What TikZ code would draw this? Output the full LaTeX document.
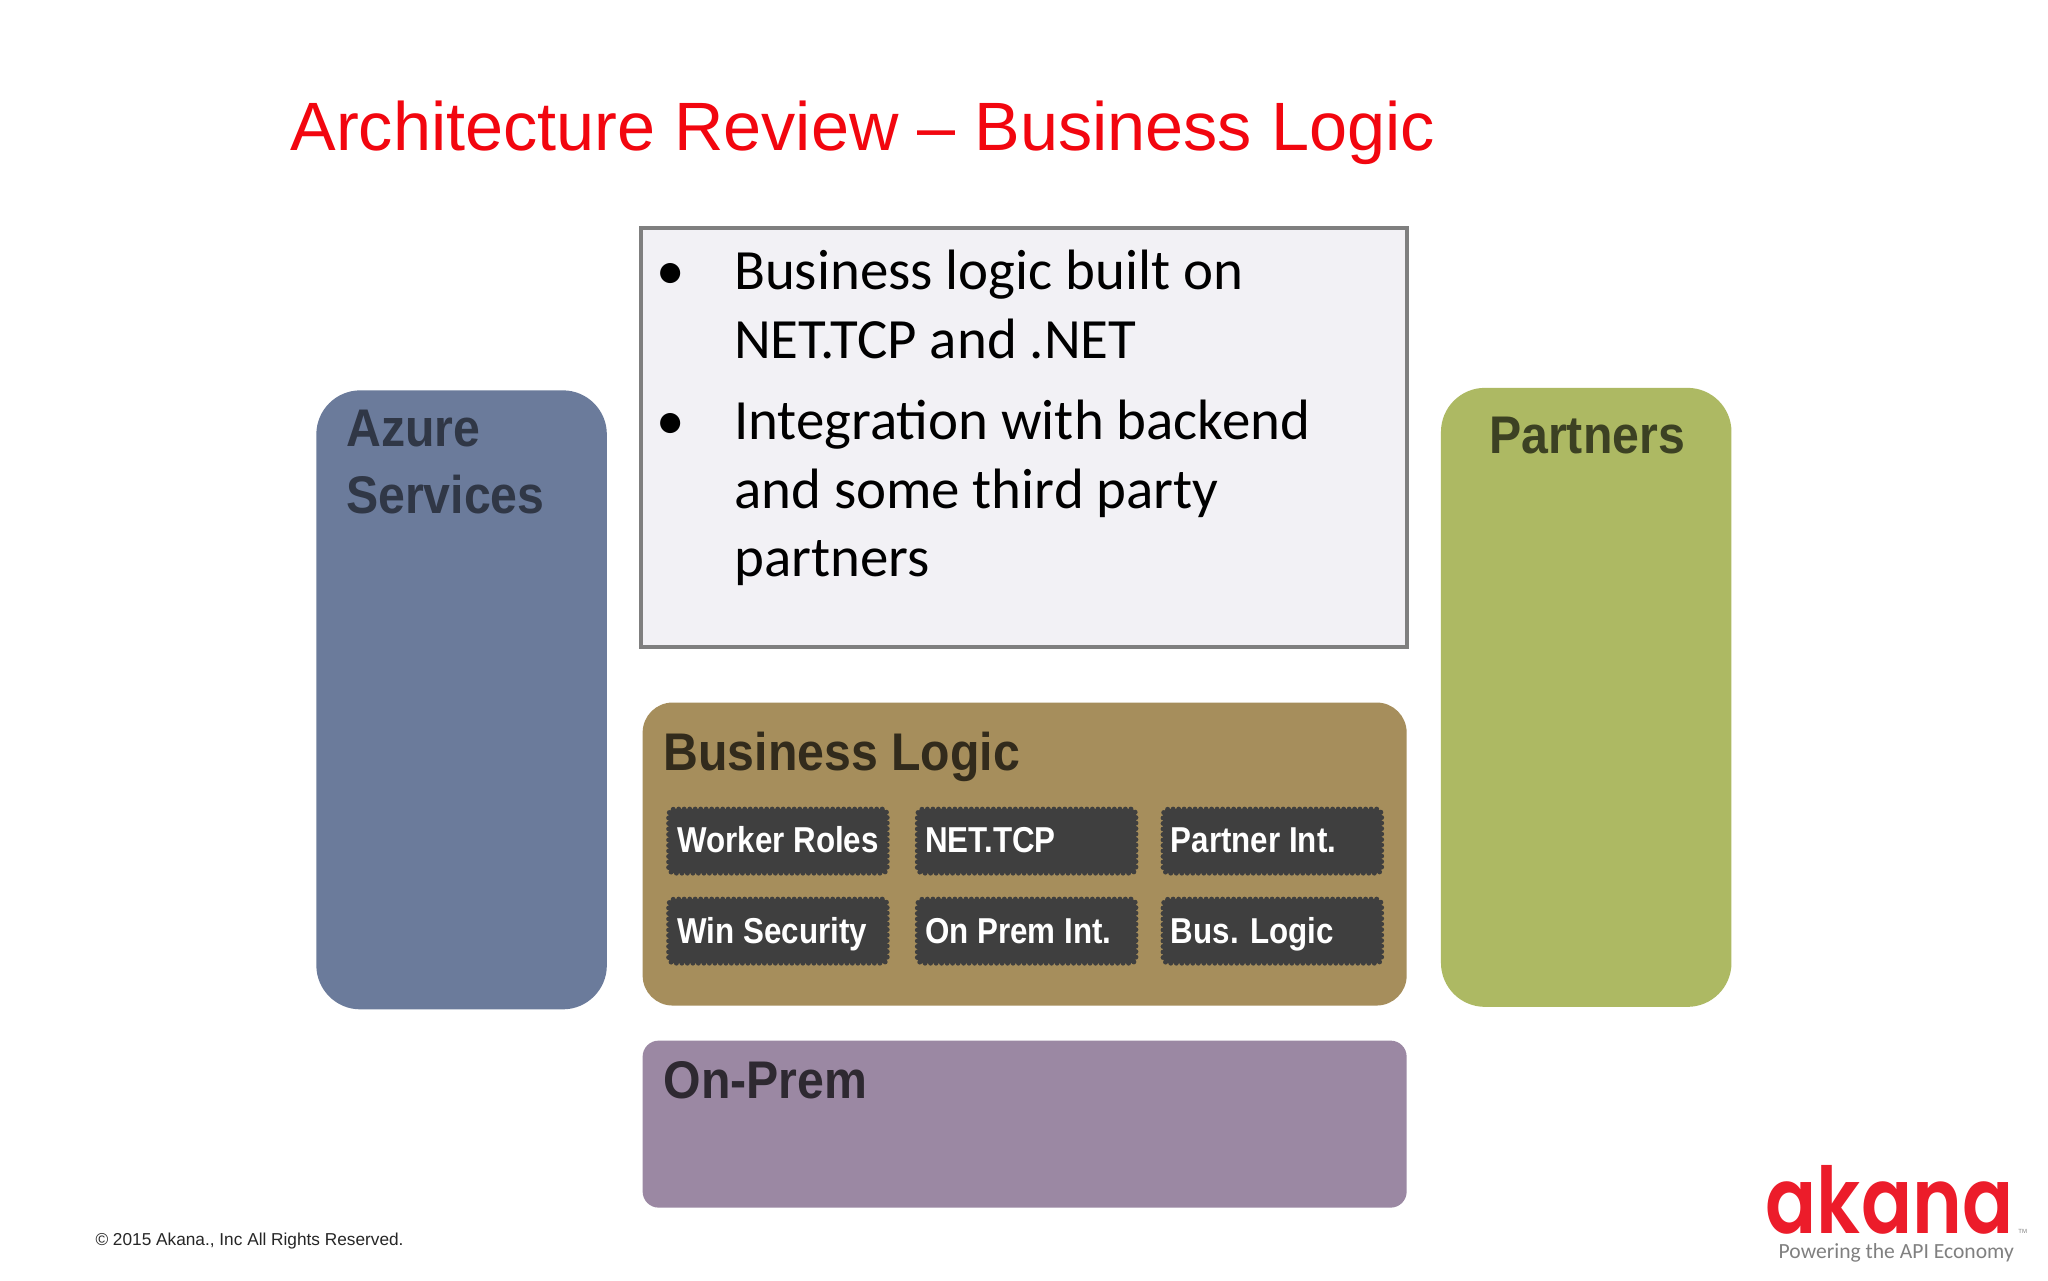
\documentclass[tikz,border=0pt]{standalone}
\usepackage{fontspec}
\setmainfont{Liberation Sans}
\newfontfamily\bodyfont{Carlito}
\newfontfamily\logofont{Poppins SemiBold}
\definecolor{azurefill}{HTML}{6B7B9B}
\definecolor{partnerfill}{HTML}{ADB963}
\definecolor{busfill}{HTML}{A68E5C}
\definecolor{premfill}{HTML}{9B88A3}
\definecolor{notefill}{HTML}{F2F1F5}
\definecolor{noteline}{HTML}{7F7F7F}
\definecolor{chip}{HTML}{3F3F3F}
\definecolor{titlered}{HTML}{F2060F}
\definecolor{logored}{HTML}{EC1C2A}
\tikzset{
  lbl/.style={anchor=base west,inner sep=0pt,outer sep=0pt},
  panel/.style={draw=none,inner sep=0pt,minimum width=#1},
  head/.style={lbl,xscale=.91,font=\bfseries\fontsize{53}{60}\selectfont},
  chipbox/.style={fill=chip,draw=chip,line width=5pt,line cap=round,dash pattern=on 0pt off 5.5pt,rounded corners=5pt,minimum width=218.5pt,minimum height=64pt,inner sep=0pt},
  chiptext/.style={lbl,xscale=.87,text=white,font=\bfseries\fontsize{36}{42}\selectfont},
  notetext/.style={lbl,font=\bodyfont\fontsize{56.9}{68}\selectfont},
}
\begin{document}
\begin{tikzpicture}[x=.9948pt,y=-.9948pt]
\useasboundingbox (0,0) rectangle (2058.7,1286.7);
\fill[white] (0,0) rectangle (2058.7,1286.7);
\node[lbl,text=titlered,font=\fontsize{68.4}{80}\selectfont] (title) at (292,151) {Architecture Review – Business Logic};
% note
\node[draw=noteline,fill=notefill,line width=4pt,minimum width=766pt,minimum height=419pt,inner sep=0pt] (note) at (1029.5,440) {};
\node[notetext] (b1) at (660,291) {•};
\node[notetext] (t1) at (738,291) {Business logic built on};
\node[notetext] (t2) at (738,360) {NET.TCP and .NET};
\node[notetext] (b2) at (660,442) {•};
\node[notetext] (t3) at (738,442) {Integration with backend};
\node[notetext] (t4) at (738,511) {and some third party};
\node[notetext] (t5) at (738,580) {partners};
% side panels
\node[panel=290.5pt,fill=azurefill,minimum height=619pt,rounded corners=44pt] (azure) at (464,703.5) {};
\node[head,text=azurefill!45!black] (azure1) at (348,449) {Azure};
\node[head,text=azurefill!45!black] (azure2) at (348,516) {Services};
\node[panel=290.5pt,fill=partnerfill,minimum height=619pt,rounded corners=44pt] (partners) at (1594.5,701) {};
\node[head,text=partnerfill!35!black] (ptext) at (1497,456) {Partners};
% business
\node[panel=764pt,fill=busfill,minimum height=303pt,rounded corners=30pt] (bus) at (1030,858.5) {};
\node[head,text=busfill!30!black] (bustext) at (667,775) {Business Logic};
\node[chipbox] (c1) at (782,845.5) {};
\node[chipbox] (c2) at (1032,845.5) {};
\node[chipbox] (c3) at (1279,845.5) {};
\node[chipbox] (c4) at (782,936) {};
\node[chipbox] (c5) at (1032,936) {};
\node[chipbox] (c6) at (1279,936) {};
\node[chiptext] at (681,857) {Worker Roles};
\node[chiptext] at (930,857) {NET.TCP};
\node[chiptext] at (1177,857) {Partner Int.};
\node[chiptext] at (681,948) {Win Security};
\node[chiptext] at (930,948) {On Prem Int.};
\node[chiptext] at (1177,948) {Bus. Logic};
% on-prem
\node[panel=764pt,fill=premfill,minimum height=167pt,rounded corners=16pt] (prem) at (1030,1130) {};
\node[head,text=premfill!30!black] (premtext) at (667,1104) {On-Prem};
% footer
\node[lbl,font=\fontsize{17.25}{22}\selectfont,text=black!85] (copy) at (96,1252) {© 2015 Akana., Inc All Rights Reserved.};
\node[lbl,xscale=.82,text=logored,font=\logofont\fontsize{92}{100}\selectfont] (logo) at (1775,1240) {akana};
\node[lbl,text=gray,font=\fontsize{6}{7}\selectfont] (tm) at (2029,1240) {TM};
\node[lbl,text=black!50,font=\bodyfont\fontsize{21.6}{26}\selectfont] (tag) at (1788,1265.5) {Powering the API Economy};
\end{tikzpicture}
\end{document}
